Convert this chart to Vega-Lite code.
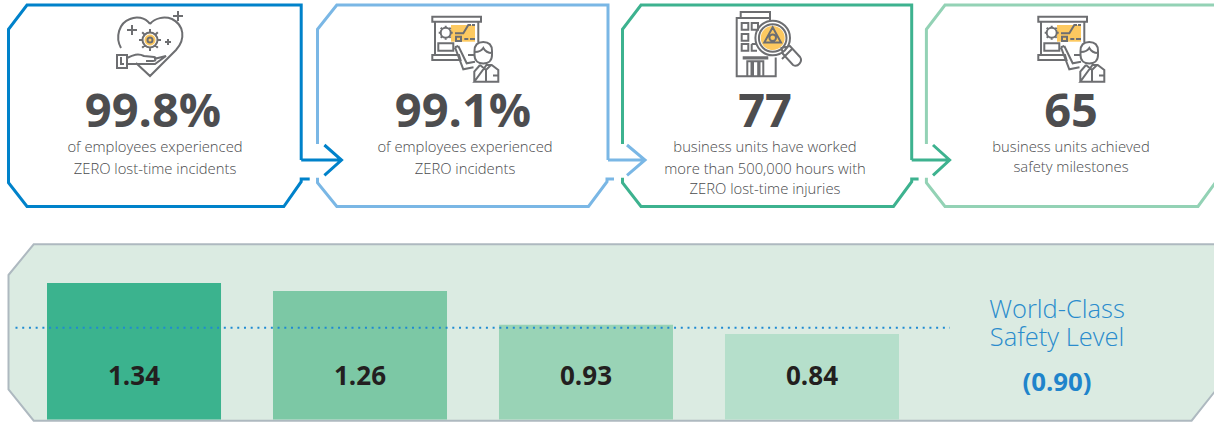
{
"$schema":"https://vega.github.io/schema/vega-lite/v6.json",
"width":1214,"height":424,"padding":0,"autosize":{"type":"none"},"background":"#ffffff",
"config":{"view":{"stroke":null},"axis":{"disable":true},"legend":{"disable":true}},
"datasets":{
"panel":[{"panel":"rate"}],
"bars":[{"bar":"1","rate":1.34},{"bar":"2","rate":1.26},{"bar":"3","rate":0.93},{"bar":"4","rate":0.84}],
"target":[{"target":0.9}],
"cards":[{"card":1,"icon":"heart"},{"card":2,"icon":"board"},{"card":3,"icon":"building"},{"card":4,"icon":"board"}],
"numbers":[{"card":1,"text":"99.8%"},{"card":2,"text":"99.1%"},{"card":3,"text":"77"},{"card":4,"text":"65"}],
"lines":[
{"card":1,"line":1,"text":"of employees experienced"},{"card":1,"line":2,"text":"ZERO lost-time incidents"},
{"card":2,"line":1,"text":"of employees experienced"},{"card":2,"line":2,"text":"ZERO incidents"},
{"card":3,"line":1,"text":"business units have worked"},{"card":3,"line":2,"text":"more than 500,000 hours with"},{"card":3,"line":3,"text":"ZERO lost-time injuries"},
{"card":4,"line":1,"text":"business units achieved"},{"card":4,"line":1.93,"text":"safety milestones"}],
"notes":[{"row":1,"text":"World-Class"},{"row":2,"text":"Safety Level"}],
"noteValue":[{"row":3,"text":"(0.90)"}]
},
"resolve":{"scale":{"x":"independent","y":"independent","shape":"independent","color":"independent","stroke":"independent"}},
"layer":[
{"data":{"name":"panel"},
 "mark":{"type":"point","filled":false,"fill":"#dbebe2","fillOpacity":1,"opacity":1,"stroke":"#aeb9c0","strokeWidth":2,"size":4,"strokeMiterLimit":10,"shape":"M-598.5,-58 L-573.3,-88.7 L609,-88.7 L609,57 L584.6,87.7 L-573.3,87.7 L-598.5,56.3 Z"},
 "encoding":{"x":{"datum":607,"type":"quantitative","scale":{"domain":[0,1214],"range":[0,1214],"zero":false}},"y":{"datum":333,"type":"quantitative","scale":{"domain":[0,424],"range":[0,424],"zero":false}}}},
{"data":{"name":"bars"},
 "mark":{"type":"bar"},
 "encoding":{"x":{"field":"bar","type":"nominal","scale":{"type":"band","domain":["1","2","3","4"],"range":[47,899],"paddingInner":0.23,"paddingOuter":0}},
 "y":{"field":"rate","type":"quantitative","scale":{"domain":[-0.0442,4.117],"range":[424,0],"zero":false,"nice":false}},
 "y2":{"datum":0},
 "color":{"field":"bar","type":"nominal","scale":{"domain":["1","2","3","4"],"range":["#3bb38e","#7cc8a5","#99d3b6","#b5dfcb"]}}}},
{"data":{"name":"target"},
 "mark":{"type":"rule","color":"#1f8ad2","strokeWidth":2,"strokeDash":[2,4.72]},
 "encoding":{"x":{"datum":15.5,"type":"quantitative","scale":{"domain":[0,1214],"range":[0,1214],"zero":false}},"x2":{"datum":950},
 "y":{"field":"target","type":"quantitative","scale":{"domain":[-0.0442,4.117],"range":[424,0],"zero":false,"nice":false}}}},
{"data":{"name":"bars"},
 "mark":{"type":"text","font":"Open Sans","fontWeight":700,"fontSize":26,"color":"#231f20","baseline":"middle","align":"center"},
 "encoding":{"x":{"field":"bar","type":"nominal","scale":{"type":"band","domain":["1","2","3","4"],"range":[47,899],"paddingInner":0.23,"paddingOuter":0}},
 "y":{"datum":0.42,"type":"quantitative","scale":{"domain":[-0.0442,4.117],"range":[424,0],"zero":false,"nice":false}},
 "text":{"field":"rate","type":"quantitative","format":".2f"}}},
{"data":{"name":"cards"},
 "mark":{"type":"point","filled":false,"fill":null,"opacity":1,"strokeWidth":3,"size":4,"strokeMiterLimit":10},
 "encoding":{"x":{"field":"card","type":"quantitative","scale":{"domain":[1,2,3,4],"range":[150,465,766,1071],"zero":false,"nice":false}},
 "y":{"datum":45,"type":"quantitative","scale":{"domain":[0,424],"range":[0,424],"zero":false}},
 "stroke":{"field":"card","type":"nominal","scale":{"domain":[1,2,3,4],"range":["#0082ca","#7ab7e5","#3db28f","#93d2b5"]}},
 "shape":{"field":"card","type":"nominal","scale":{"domain":[1,2,3,4],"range":[
 "M151.2,115 L151.2,-40 L-123,-40 L-141.5,-15.7 L-141.5,137.7 L-123,161.5 L133.8,161.5 L151.2,136.7 L151.2,134 L159.7,134 M151.2,115 L191.5,115 M174.4,100 L191.5,115 L174.4,130.3",
 "M143,115 L143,-40 L-128.2,-40 L-147.5,-15.7 L-147.5,99 M-147.5,132.7 L-147.5,137.7 L-128.2,161.5 L123.5,161.5 L142,136.7 L142,134 L149,134 M143,115 L180,115 M162,100 L180,115 L162,130.3",
 "M145.7,115 L145.7,-40 L-125,-40 L-143.5,-15.7 L-143.5,99 M-143.5,132.7 L-143.5,137.7 L-125,161.5 L127.5,161.5 L145.7,136.7 L145.7,134 L152.6,134 M145.7,115 L183.6,115 M167,100 L183.6,115 L167,130.3",
 "M154,-40 L-126,-40 L-144.6,-15.7 L-144.6,99 M-144.6,132.7 L-144.6,137.7 L-126,161.5 L127,161.5 L145,136.7"]}}}},
{"data":{"name":"cards"},
 "mark":{"type":"point","filled":true,"opacity":1,"color":"#fdc960","size":4},
 "encoding":{"x":{"field":"card","type":"quantitative","scale":{"domain":[1,2,3,4],"range":[150,465,766,1071],"zero":false,"nice":false}},
 "y":{"datum":45,"type":"quantitative","scale":{"domain":[0,424],"range":[0,424],"zero":false}},
 "shape":{"field":"icon","type":"nominal","scale":{"domain":["heart","board","building"],"range":[
 "M5.5,-5 A5.5,5.5 0 1 1 -5.5,-5 A5.5,5.5 0 1 1 5.5,-5 Z",
 "M-14,-20 L10,-20 L10,-3.3 L-14,-3.3 Z",
 "M18.7,-7 A12,12 0 1 1 -5.3,-7 A12,12 0 1 1 18.7,-7 Z"]}}}},
{"data":{"name":"cards"},
 "mark":{"type":"point","filled":false,"fill":null,"opacity":1,"stroke":"#6d6e71","strokeWidth":2,"size":4},
 "encoding":{"x":{"field":"card","type":"quantitative","scale":{"domain":[1,2,3,4],"range":[150,465,766,1071],"zero":false,"nice":false}},
 "y":{"datum":45,"type":"quantitative","scale":{"domain":[0,424],"range":[0,424],"zero":false}},
 "shape":{"field":"icon","type":"nominal","scale":{"domain":["heart","board","building"],"range":[
 "M0,-21 C-5,-28 -14,-29 -20,-26 C-31,-22 -35,-8 -29,3 M-14,18 L0,31 L26,5 C36,-6 34,-20 22,-26 C14,-29 5,-27 0,-21 M-33,10 L-23,10 L-23,23 L-33,23 Z M-29,12 L-29,19 L-26,19 M-23,13 C-17,10 -12,8 -6,11 L4,12 C7,13 6,16 3,16 L-4,16 M4,14 L16,11 L5,19 L-23,19 M7.5,-5 A7.5,7.5 0 1 1 -7.5,-5 A7.5,7.5 0 1 1 7.5,-5 Z M0,-12.5 L0,-16 M0,2.5 L0,6 M7.5,-5 L11,-5 M-7.5,-5 L-11,-5 M5.3,-10.3 L7.8,-12.8 M-5.3,-10.3 L-7.8,-12.8 M5.3,0.3 L7.8,2.8 M-5.3,0.3 L-7.8,2.8 M2.5,-5 A2.5,2.5 0 1 1 -2.5,-5 A2.5,2.5 0 1 1 2.5,-5 Z M-18,-20 L-18,-10 M-23,-15 L-13,-15 M18,-6 L18,0 M15,-3 L21,-3 M28,-34 L28,-24 M23,-29 L33,-29",
 "M-32.7,-28.3 L16,-28.3 L16,-23.3 L-32.7,-23.3 Z M-30,-23.3 L-30,10 M13.3,-23.3 L13.3,-2 M-32.7,10 L-6,10 L-4.5,15 L-32.7,15 Z M3,10 L10,10 M-24.3,-12.3 A5,5 0 1 1 -14.3,-12.3 A5,5 0 1 1 -24.3,-12.3 Z M-19.3,-19.3 L-19.3,-16.8 M-19.3,-7.8 L-19.3,-5.3 M-26.3,-12.3 L-23.8,-12.3 M-14.8,-12.3 L-12.3,-12.3 M-22.5,-15.5 L-24.3,-17.3 M-16.1,-15.5 L-14.3,-17.3 M-22.5,-9.1 L-24.3,-7.3 M-16.1,-9.1 L-14.3,-7.3 M-10,-11.7 L-1.7,-11.7 L3.3,-20 L6,-20 M7,-20 L10,-20 M-9,-8.3 L-4,-8.3 L-4,-4 L-9,-4 Z M-0.7,-6 L3.3,-6 M5,-6 L10,-6 M-26.7,-1.7 L-11.7,-1.7 L-11.7,5.7 L-26.7,5.7 Z M9.5,6 C9.5,0 13,-3 18.3,-3 C23.6,-3 27,0 27,6 L27,10 C27,16 23,18.5 18.3,18.5 C13.6,18.5 9.5,16 9.5,10 Z M10,7 C15,7 17,5 18.3,3 C20,6 23,8 27,8 M9.3,36.7 L9.3,26.7 L15,20 M21.5,20 L26.7,20 L33.3,25 L33.3,36.7 L9.3,36.7 Z M-10,2.3 L-1.7,24.3 L8.5,22.3 M-6.7,1 L1.7,18.3 L10,16.7 M-10,2.3 L-6.7,1 M15,20 L21,25 L26,20 M21,25 L21,36.7 M28,30.5 L33,30.5",
 "M-25.3,-27 L-25.3,-33 L4,-33 L4,-27 M4,-25 L4,-27 L-29.3,-27 L-29.3,31.3 L9.7,31.3 L9.7,12.5 M-24.3,-22 L-17.7,-22 L-17.7,-15.3 L-24.3,-15.3 Z M-14.3,-22 L-8,-22 L-8,-15.3 L-14.3,-15.3 Z M-24.3,-11 L-17.7,-11 L-17.7,-4.3 L-24.3,-4.3 Z M-24.3,-1 L-17.7,-1 L-17.7,5.7 L-24.3,5.7 Z M-14.3,-1 L-9,-1 M-14.3,-1 L-14.3,5.7 L-9,5.7 M-23.3,12.3 L2.3,12.3 M-23.3,13.5 L2.3,13.5 M-18.7,31.3 L-18.7,16.3 L-2.7,16.3 L-2.7,31.3 M-14.5,17 L-14.5,31 M-13,17 L-13,31 M-7.8,17 L-7.8,31 M-6.5,17 L-6.5,31 M24,-7 A17.3,17.3 0 1 1 -10.6,-7 A17.3,17.3 0 1 1 24,-7 Z M20.5,-7 A13.8,13.8 0 1 1 -7.1,-7 A13.8,13.8 0 1 1 20.5,-7 Z M6.7,-17.7 L-1.7,-2.5 L15,-2.5 Z M10,-7.3 A3.3,3.3 0 1 1 3.4,-7.3 A3.3,3.3 0 1 1 10,-7.3 Z M15.5,3 L24,1 L34,12 C37,16 32,23 27,20 L17,9 Z M16,14 L27,3"]}}}},
{"data":{"name":"numbers"},
 "mark":{"type":"text","font":"Open Sans","fontWeight":700,"fontSize":47,"color":"#4d4d4f","baseline":"middle","align":"center"},
 "encoding":{"x":{"field":"card","type":"quantitative","scale":{"domain":[1,2,3,4],"range":[153,463,765,1071],"zero":false,"nice":false}},
 "y":{"datum":113,"type":"quantitative","scale":{"domain":[0,424],"range":[0,424],"zero":false}},
 "text":{"field":"text"}}},
{"data":{"name":"lines"},
 "mark":{"type":"text","font":"Open Sans","fontWeight":300,"fontSize":14.8,"color":"#4a4b4d","baseline":"middle","align":"center"},
 "encoding":{"x":{"field":"card","type":"quantitative","scale":{"domain":[1,2,3,4],"range":[155,465,765,1071],"zero":false,"nice":false}},
 "y":{"field":"line","type":"quantitative","scale":{"domain":[1,2,3],"range":[148.3,170,190],"zero":false,"nice":false}},
 "text":{"field":"text"}}},
{"data":{"name":"notes"},
 "mark":{"type":"text","font":"Open Sans","fontWeight":300,"fontSize":25.5,"color":"#2a8ccd","baseline":"middle","align":"center"},
 "encoding":{"x":{"datum":1057,"type":"quantitative","scale":{"domain":[0,1214],"range":[0,1214],"zero":false}},
 "y":{"field":"row","type":"quantitative","scale":{"domain":[1,2],"range":[310,338.3],"zero":false,"nice":false}},
 "text":{"field":"text"}}},
{"data":{"name":"noteValue"},
 "mark":{"type":"text","font":"Open Sans","fontWeight":700,"fontSize":25.8,"color":"#1f84cb","baseline":"middle","align":"center"},
 "encoding":{"x":{"datum":1057,"type":"quantitative","scale":{"domain":[0,1214],"range":[0,1214],"zero":false}},
 "y":{"datum":383,"type":"quantitative","scale":{"domain":[0,424],"range":[0,424],"zero":false}},
 "text":{"field":"text"}}}
]
}
